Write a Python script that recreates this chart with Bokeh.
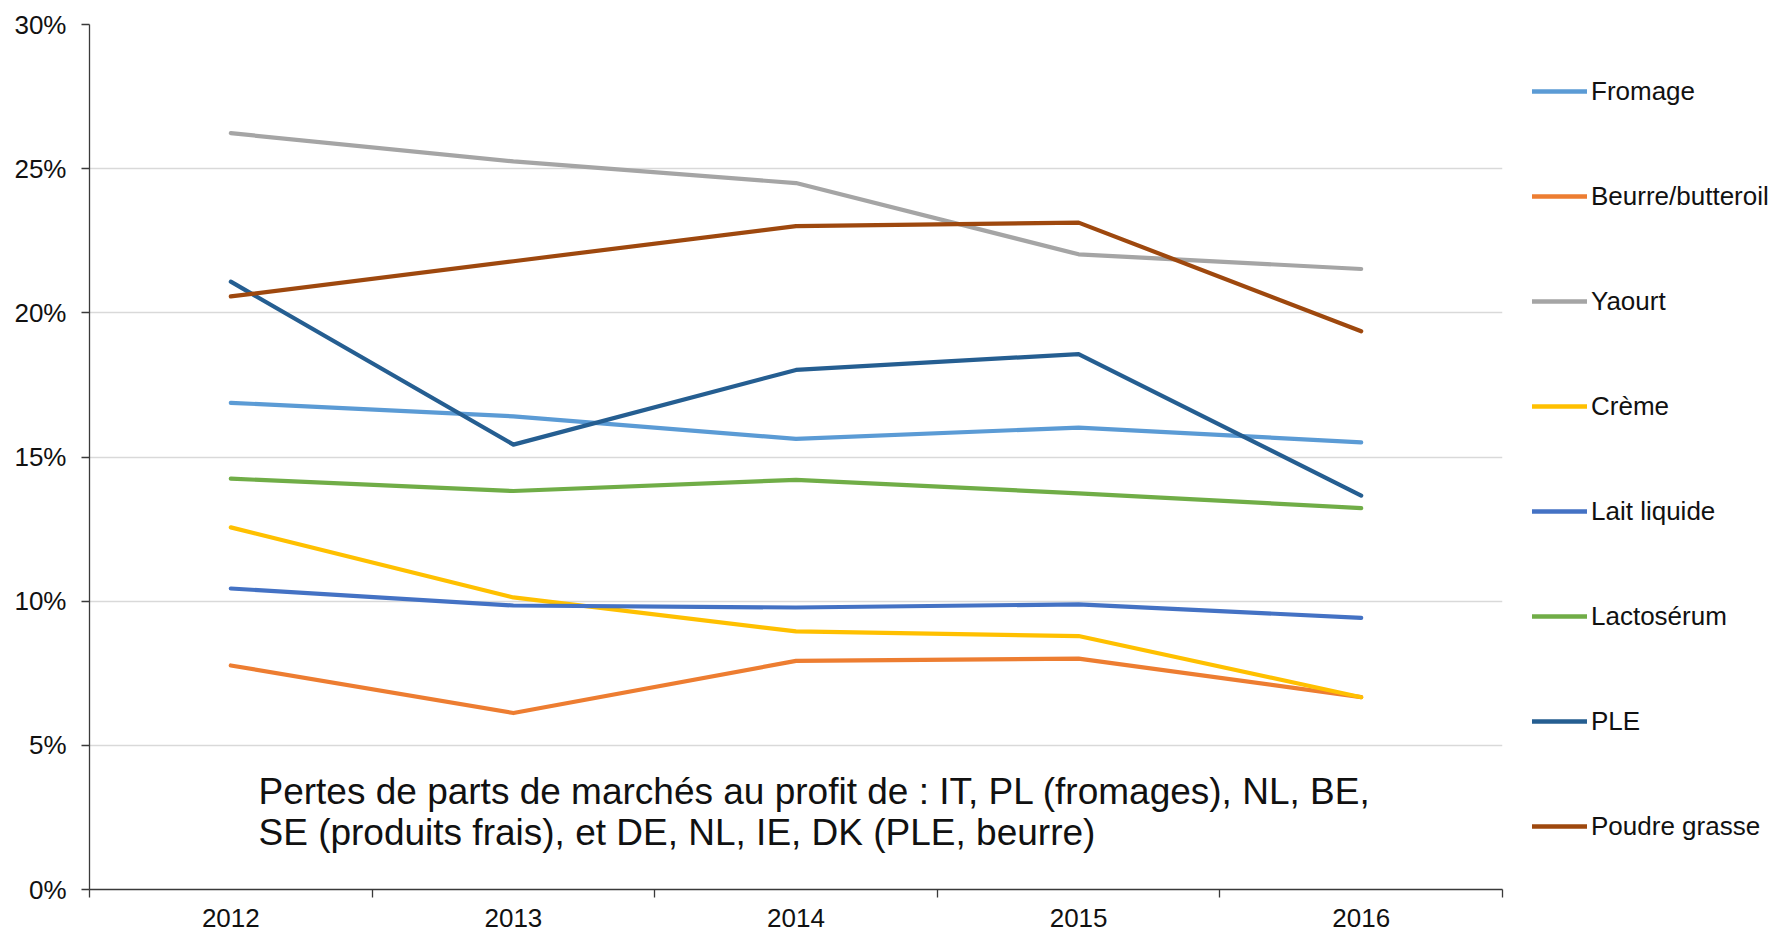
from bokeh.plotting import figure
from bokeh.layouts import row
from bokeh.models import (Range1d, FixedTicker, NumeralTickFormatter, Legend, LegendItem,
                          Label, ColumnDataSource)
from bokeh.embed import file_html
from bokeh.resources import INLINE

years = ["2012", "2013", "2014", "2015", "2016"]
series_names = ["Fromage", "Beurre/butteroil", "Yaourt", "Crème", "Lait liquide",
                "Lactosérum", "PLE", "Poudre grasse"]
fromage = [0.1688, 0.1641, 0.1563, 0.1602, 0.1551]
beurre = [0.0777, 0.0612, 0.0793, 0.0801, 0.0667]
yaourt = [0.2623, 0.2525, 0.2450, 0.2203, 0.2152]
creme = [0.1256, 0.1013, 0.0895, 0.0879, 0.0667]
lait = [0.1044, 0.0985, 0.0978, 0.0989, 0.0942]
lacto = [0.1425, 0.1382, 0.1421, 0.1374, 0.1323]
ple = [0.2108, 0.1543, 0.1802, 0.1857, 0.1366]
poudre = [0.2057, 0.2179, 0.2301, 0.2313, 0.1936]
colors = ["#5B9BD5", "#ED7D31", "#A5A5A5", "#FFC000", "#4472C4", "#70AD47", "#255E91", "#9E480E"]
y_ticks = [0.0, 0.05, 0.10, 0.15, 0.20, 0.25, 0.30]
note_lines = ["Pertes de parts de marchés au profit de : IT, PL (fromages), NL, BE,",
              "SE (produits frais), et  DE, NL, IE, DK (PLE, beurre)"]

all_series = [fromage, beurre, yaourt, creme, lait, lacto, ple, poudre]
xpos = [i + 0.5 for i in range(len(years))]

FONT = "Liberation Sans"
LW = 4.2

# ---------------- main chart ----------------
p = figure(width=1504, height=932, output_backend="svg", toolbar_location=None,
           x_range=Range1d(0, len(years)), y_range=Range1d(0, 0.30),
           min_border_left=89, min_border_right=2, min_border_top=24, min_border_bottom=43)
p.outline_line_color = None
p.background_fill_color = "white"
p.border_fill_color = "white"

xa = p.xaxis[0]
xa.ticker = FixedTicker(ticks=xpos, minor_ticks=list(range(len(years) + 1)))
xa.major_label_overrides = {x: y for x, y in zip(xpos, years)}
xa.major_tick_line_color = None
xa.major_tick_out = 0
xa.major_tick_in = 0
xa.minor_tick_out = 8
xa.minor_tick_in = 0
xa.minor_tick_line_color = "#3a3a3a"
xa.minor_tick_line_width = 1.3
xa.axis_line_color = "#3a3a3a"
xa.axis_line_width = 1.3
xa.major_label_standoff = 11
xa.major_label_text_font = FONT
xa.major_label_text_font_size = "26px"
xa.major_label_text_color = "#111111"
p.xgrid.grid_line_color = None

ya = p.yaxis[0]
ya.ticker = FixedTicker(ticks=y_ticks)
ya.formatter = NumeralTickFormatter(format="0%")
ya.major_tick_out = 8
ya.major_tick_in = 0
ya.minor_tick_line_color = None
ya.major_tick_line_color = "#3a3a3a"
ya.major_tick_line_width = 1.3
ya.axis_line_color = "#3a3a3a"
ya.axis_line_width = 1.3
ya.major_label_standoff = 15
ya.major_label_text_font = FONT
ya.major_label_text_font_size = "26px"
ya.major_label_text_color = "#111111"
p.ygrid.ticker = FixedTicker(ticks=y_ticks)
p.ygrid.grid_line_color = "#D9D9D9"
p.ygrid.grid_line_width = 1.3

for name, vals, col in zip(series_names, all_series, colors):
    src = ColumnDataSource(dict(x=xpos, y=vals))
    p.line("x", "y", source=src, line_color=col, line_width=LW,
           line_cap="round", line_join="round")

for txt, yv in zip(note_lines, [0.0340, 0.0198]):
    p.add_layout(Label(x=0.598, y=yv, text=txt, text_font=FONT, text_font_size="37px",
                       text_color="#111111", text_baseline="alphabetic", text_align="left"))

# ---------------- legend panel ----------------
lg = figure(width=271, height=932, output_backend="svg", toolbar_location=None,
            x_range=Range1d(100, 101), y_range=Range1d(100, 101),
            min_border_left=0, min_border_right=0, min_border_top=0, min_border_bottom=0)
lg.axis.visible = False
lg.grid.visible = False
lg.outline_line_color = None
lg.background_fill_color = "white"
lg.border_fill_color = "white"

items = []
for name, vals, col in zip(series_names, all_series, colors):
    src = ColumnDataSource(dict(x=xpos, y=vals))
    r = lg.line("x", "y", source=src, line_color=col, line_width=4.6, line_cap="round")
    items.append(LegendItem(label=name, renderers=[r]))

legend = Legend(items=items, location=(28, 47), orientation="vertical",
                glyph_width=55, glyph_height=32, label_height=32, spacing=73,
                label_standoff=4, padding=0, margin=0,
                border_line_color=None, background_fill_alpha=0,
                label_text_font=FONT, label_text_font_size="26px",
                label_text_color="#111111")
lg.add_layout(legend, "center")

layout = row(p, lg, spacing=0)
open("out.html", "w").write(file_html(layout, INLINE))
